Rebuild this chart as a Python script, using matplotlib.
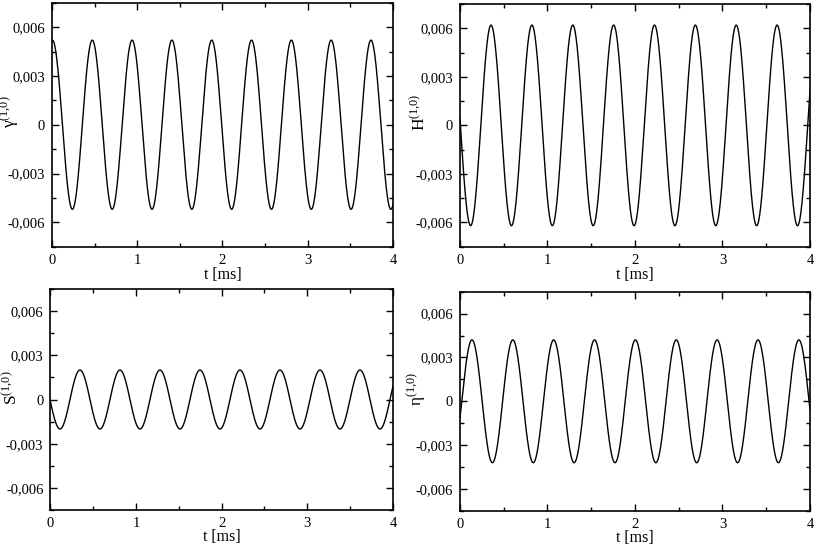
import matplotlib
matplotlib.use("Agg")
import matplotlib.pyplot as plt
import numpy as np
from matplotlib.ticker import MultipleLocator, FuncFormatter

plt.rcParams['font.family'] = ['Liberation Serif', 'DejaVu Serif']
plt.rcParams['mathtext.fontset'] = 'custom'
plt.rcParams['mathtext.rm'] = 'Liberation Serif'
plt.rcParams['mathtext.it'] = 'Liberation Serif:italic'

# Values: amplitude, period and time of first maximum (ms)
labels = [r'$\mathrm{\gamma}^{(1{,}0)}$', r'$\mathrm{H}^{(1{,}0)}$',
          r'$\mathrm{S}^{(1{,}0)}$', r'$\mathrm{\eta}^{(1{,}0)}$']
amplitudes = [0.0052, 0.0062, 0.0020, 0.0042]
periods = [0.467, 0.467, 0.467, 0.467]
first_peak = [0.006, 0.355, 0.346, 0.137]

t = np.linspace(0, 4, 2000)

fig = plt.figure(figsize=(8.17, 5.45), dpi=100)
# axes boxes in figure fraction [left, bottom, width, height]
boxes = [
    [0.0636, 0.5473, 0.4174, 0.4477],
    [0.5630, 0.5473, 0.4284, 0.4453],
    [0.0616, 0.0642, 0.4194, 0.4055],
    [0.5630, 0.0624, 0.4284, 0.4025],
]
label_x = [-0.09, -0.09, -0.088, -0.09]

def comma_fmt(v, pos):
    if abs(v) < 1e-12:
        return '0'
    return f'{v:.3f}'.replace('.', ',')

for i in range(4):
    ax = fig.add_axes(boxes[i])
    y = amplitudes[i] * np.cos(2 * np.pi * (t - first_peak[i]) / periods[i])
    ax.plot(t, y, color='black', lw=1.0)
    ax.set_xlim(0, 4)
    ax.set_ylim(-0.0075, 0.0075)
    ax.xaxis.set_major_locator(MultipleLocator(1))
    ax.xaxis.set_minor_locator(MultipleLocator(0.5))
    ax.yaxis.set_major_locator(MultipleLocator(0.003))
    ax.yaxis.set_minor_locator(MultipleLocator(0.0015))
    ax.yaxis.set_major_formatter(FuncFormatter(comma_fmt))
    ax.tick_params(which='both', direction='in', top=True, right=True, labelsize=10.5, pad=5)
    ax.tick_params(which='major', length=5, width=1)
    ax.tick_params(which='minor', length=3, width=1)
    for s in ax.spines.values():
        s.set_linewidth(1.2)
    ax.set_xlabel('t [ms]', fontsize=11.5, labelpad=0 if i < 2 else -1)
    ax.set_ylabel(labels[i], fontsize=12.5)
    ax.yaxis.set_label_coords(label_x[i], 0.555)

fig.savefig('out.png', dpi=100)
